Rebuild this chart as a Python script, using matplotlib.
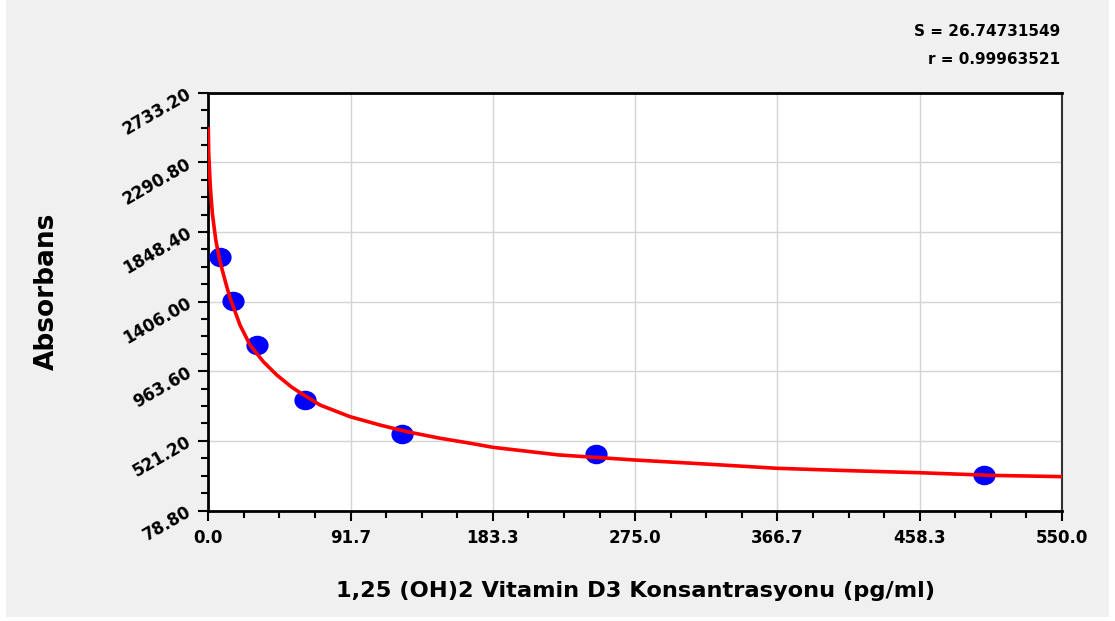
import numpy as np
import matplotlib
matplotlib.use('Agg')
import matplotlib.pyplot as plt
from matplotlib.path import Path
from matplotlib.transforms import Affine2D
from matplotlib.patches import Rectangle
from matplotlib.ticker import FixedLocator

# ---- data ----
conc = [7.8, 15.6, 31.25, 62.5, 125, 250, 500]
absorb = [1690, 1410, 1128, 781, 568, 438, 306]

curve_x = [0, 0.26, 1.3, 2.6, 4.8, 7.3, 9.0, 11.9, 14.0, 20.4, 26.9, 35.4, 44.1,
           53.7, 59.1, 72, 91.3, 110.6, 127.8, 149.3, 166.5, 183.6, 225.7, 274.3,
           320.6, 366.4, 412.6, 457.9, 504.6, 550]
curve_y = [2507, 2349, 2136, 1967, 1798, 1671, 1607, 1501, 1430, 1258, 1130, 1025, 940,
           863, 828, 749, 675, 622, 580, 538, 510, 480, 432, 400,
           374, 347, 332, 319, 302, 294]

x_ticks = [0.0, 91.7, 183.3, 275.0, 366.7, 458.3, 550.0]
x_tick_labels = ["0.0", "91.7", "183.3", "275.0", "366.7", "458.3", "550.0"]
y_ticks = [78.80, 521.20, 963.60, 1406.00, 1848.40, 2290.80, 2733.20]
y_tick_labels = ["78.80", "521.20", "963.60", "1406.00", "1848.40", "2290.80", "2733.20"]

x_title = "1,25 (OH)2 Vitamin D3 Konsantrasyonu (pg/ml)"
y_title = "Absorbans"
stat_lines = ["S = 26.74731549", "r = 0.99963521"]

# ---- figure ----
W, H = 1115, 621
fig = plt.figure(figsize=(W / 100, H / 100), dpi=100, facecolor='white')
plt.rcParams['font.family'] = ['DejaVu Sans']
fig.patches.append(Rectangle((6 / W, 1 - 617 / H), (1109 - 6) / W, 617 / H,
                             transform=fig.transFigure, facecolor='#f0f0f0',
                             edgecolor='none', zorder=-10))

left, right, top, bottom = 208.3, 1062, 92.8, 510.5
ax = fig.add_axes([left / W, 1 - bottom / H, (right - left) / W, (bottom - top) / H])
ax.set_zorder(1)
ax.set_facecolor('white')

ax.set_xlim(x_ticks[0], x_ticks[-1])
ax.set_ylim(y_ticks[0], y_ticks[-1])

ax.xaxis.set_major_locator(FixedLocator(x_ticks))
ax.yaxis.set_major_locator(FixedLocator(y_ticks))
xminor = []
for a, b in zip(x_ticks[:-1], x_ticks[1:]):
    xminor += list(np.linspace(a, b, 5)[1:-1])
yminor = []
for a, b in zip(y_ticks[:-1], y_ticks[1:]):
    yminor += list(np.linspace(a, b, 5)[1:-1])
ax.xaxis.set_minor_locator(FixedLocator(xminor))
ax.yaxis.set_minor_locator(FixedLocator(yminor))

ax.set_xticklabels(x_tick_labels, fontsize=12, fontweight='bold')
ax.set_yticklabels(y_tick_labels, fontsize=12, fontweight='bold',
                   rotation=30, ha='right', va='center', rotation_mode='anchor')

ax.tick_params(which='major', direction='out', length=7.2, width=1.5, color='black')
ax.tick_params(which='minor', direction='out', length=5, width=1.5, color='black')
ax.tick_params(axis='x', which='major', pad=6)
ax.tick_params(axis='y', which='major', pad=6)
ax.tick_params(top=False, right=False, which='both')

ax.grid(True, which='major', color='#d4d4d4', linewidth=1.0)
ax.set_axisbelow(True)

for s in ['left', 'bottom', 'top']:
    ax.spines[s].set_linewidth(2.0)
    ax.spines[s].set_color('black')
ax.spines['right'].set_linewidth(1.5)
ax.spines['right'].set_color('#333333')

# ellipse marker
ell = Path.unit_circle().transformed(Affine2D().scale(1.15, 1.0))
ax.plot(conc, absorb, linestyle='none', marker=ell, markersize=15,
        markerfacecolor='#0000ff', markeredgecolor='#0000ff', zorder=3)
ax.plot(curve_x, curve_y, color='#ff0000', linewidth=2.6, zorder=4,
        solid_joinstyle='round', solid_capstyle='round', clip_on=True)

fig.text(635 / W, 1 - 591 / H, x_title, fontsize=16.2, fontweight='bold',
         ha='center', va='center')
fig.text(47 / W, 1 - 291 / H, y_title, fontsize=19, fontweight='bold',
         ha='center', va='center', rotation=90)
fig.text(1060 / W, 1 - 32 / H, stat_lines[0], fontsize=11, fontweight='bold',
         ha='right', va='center')
fig.text(1060 / W, 1 - 60 / H, stat_lines[1], fontsize=11, fontweight='bold',
         ha='right', va='center')

fig.savefig('out.png', dpi=100, facecolor=fig.get_facecolor())
